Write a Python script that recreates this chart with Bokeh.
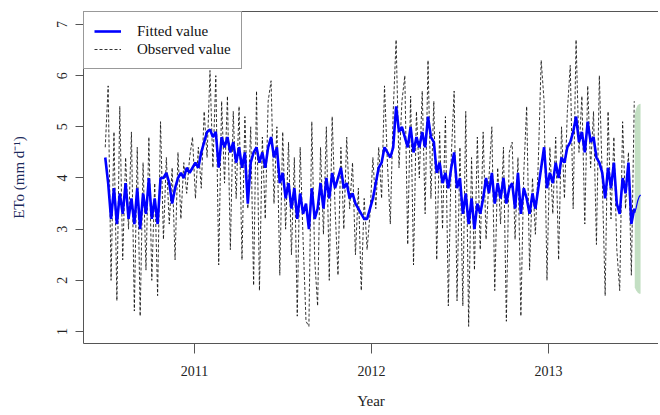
import pandas as pd
import numpy as np
from bokeh.plotting import figure
from bokeh.models import FixedTicker, LinearAxis, Legend, LegendItem, Range1d
from bokeh.embed import file_html
from bokeh.resources import INLINE

# ---------------- data ----------------
start_date = "2010-07-01"
step_days = 6

observed = [
    4.6, 5.8, 2.0, 4.9, 1.6, 5.4, 2.4, 4.4, 3.0, 4.9,
    1.4, 4.6, 1.3, 4.3, 2.2, 4.8, 2.0, 3.9, 1.7, 5.1,
    2.8, 4.4, 3.1, 4.2, 2.4, 4.5, 3.2, 4.3, 3.7, 4.4,
    4.8, 3.6, 4.6, 3.8, 5.3, 4.4, 6.1, 4.2, 6.0, 2.3,
    5.5, 3.9, 5.6, 2.6, 5.3, 3.6, 5.4, 2.4, 5.2, 3.4,
    5.0, 1.9, 5.7, 1.8, 4.8, 3.2, 5.5, 5.9, 3.5, 5.0,
    2.1, 4.9, 3.0, 4.7, 2.5, 4.4, 1.3, 4.6, 2.8, 1.2,
    1.1, 5.1, 2.4, 1.5, 4.6, 2.9, 5.0, 2.0, 5.2, 3.4,
    2.1, 4.6, 3.0, 4.8, 3.4, 4.3, 2.5, 3.8, 1.8, 3.6,
    2.6, 3.3, 4.4, 3.4, 4.6, 3.6, 5.8, 4.3, 3.1, 5.3,
    6.7, 4.2, 5.5, 6.0, 2.7, 5.6, 2.3, 5.3, 4.0, 5.7,
    3.3, 6.3, 3.6, 5.5, 2.4, 4.9, 3.0, 5.2, 1.5, 4.4,
    5.7, 1.6, 4.6, 1.5, 5.3, 1.1, 4.4, 2.2, 4.8, 2.6,
    4.9, 2.8, 4.0, 5.0, 1.8, 4.2, 3.1, 4.6, 1.2, 4.5,
    4.7, 2.8, 4.4, 1.3, 4.1, 5.4, 2.2, 4.0, 2.9, 4.3,
    6.3, 5.5, 2.0, 4.6, 3.3, 4.8, 2.4, 5.0, 3.6, 5.3,
    6.2, 3.4, 6.7, 4.5, 5.6, 3.1, 5.8, 4.2, 5.3, 2.7,
    6.0, 4.0, 1.7, 5.3, 3.2, 4.8, 2.6, 1.8, 5.1, 3.4,
    4.5, 2.1, 5.5,
]

fitted = [
    4.4, 3.9, 3.2, 3.8, 3.1, 3.7, 3.3, 3.9, 3.2, 3.6,
    3.1, 3.8, 3.0, 3.7, 3.3, 4.0, 3.2, 3.6, 3.1, 4.0,
    4.0, 4.1, 3.9, 3.5, 3.8, 4.0, 4.1, 4.0, 4.2, 4.1,
    4.2, 4.3, 4.2, 4.5, 4.7, 4.9, 4.95, 4.8, 4.9, 4.2,
    4.8, 4.6, 4.8, 4.5, 4.7, 4.3, 4.6, 4.2, 4.5, 3.5,
    4.3, 4.5, 4.6, 4.3, 4.5, 4.2, 4.6, 4.8, 4.4, 4.6,
    3.9, 4.1, 3.6, 3.9, 3.4, 3.8, 3.2, 3.7, 3.3, 3.5,
    3.0, 3.8, 3.2, 3.4, 3.9, 3.4, 4.0, 3.6, 4.1, 3.8,
    4.0, 4.2, 3.8, 3.9, 3.6, 3.7, 3.5, 3.4, 3.3, 3.2,
    3.2, 3.4, 3.6, 3.9, 4.2, 4.3, 4.6, 4.5, 4.4, 4.6,
    5.4, 4.9, 5.0, 4.8, 4.6, 5.0, 4.5, 4.8, 4.6, 4.9,
    4.6, 5.2, 4.8, 4.7, 4.1, 4.3, 3.9, 4.1, 3.8, 4.2,
    4.5, 3.8, 4.0, 3.3, 3.7, 3.1, 3.6, 3.0, 3.5, 3.3,
    3.6, 4.0, 3.7, 4.1, 3.5, 3.9, 3.6, 4.0, 3.5, 3.8,
    3.9, 3.4, 4.1, 3.3, 3.8, 3.6, 3.3, 3.7, 3.4, 3.8,
    4.2, 4.6, 3.8, 4.1, 3.9, 4.3, 4.0, 4.4, 4.3, 4.6,
    4.7, 4.9, 5.2, 4.7, 4.9, 4.5, 5.1, 4.7, 4.8, 4.4,
    4.3, 4.1, 3.6, 4.2, 3.8, 4.3, 3.5, 3.3, 4.0, 3.7,
    4.3, 3.1, 3.4,
]

fc_start = "2013-06-28"
fc_step_days = 3
forecast = [3.32, 3.42, 3.55, 3.63, 3.67]
fc_upper = [5.25, 5.36, 5.42, 5.44, 5.45]
fc_lower = [1.86, 1.80, 1.76, 1.74, 1.74]

x_ticks = [2011, 2012, 2013]
x_tick_labels = ["2011", "2012", "2013"]
y_ticks = [1, 2, 3, 4, 5, 6, 7]


def dec_year(d):
    days = np.where(d.is_leap_year, 366, 365)
    return np.asarray(d.year + (d.dayofyear - 1) / days, dtype=float)


obs_x = dec_year(pd.date_range(start_date, periods=len(observed), freq=f"{step_days}D"))
fc_x = dec_year(pd.date_range(fc_start, periods=len(forecast), freq=f"{fc_step_days}D"))

FONT = "'Liberation Serif', 'Times New Roman', serif"
AXC = "#555555"

p = figure(width=658, height=415, output_backend="svg", toolbar_location=None,
           x_range=Range1d(2010.373, 2013.588 + 6 / 177), y_range=Range1d(0.7655, 7.2535),
           min_border_left=83, min_border_right=0, min_border_top=11, min_border_bottom=72)
p.grid.visible = False
p.outline_line_color = None
p.background_fill_color = "white"

# forecast interval
p.varea(x=fc_x, y1=fc_lower, y2=fc_upper, fill_color="#c3dfc3", fill_alpha=1.0)

r_obs = p.line(obs_x, observed, line_color="#111111", line_width=0.85, line_dash="3 2")
r_fit = p.line(obs_x, fitted, line_color="#0000ff", line_width=2.6)
p.line(np.concatenate([obs_x[-1:], fc_x]), [fitted[-1]] + forecast,
       line_color="#0000ff", line_width=1.2)

# axes
xa = p.xaxis[0]
xa.ticker = FixedTicker(ticks=x_ticks)
xa.major_label_overrides = {t: l for t, l in zip(x_ticks, x_tick_labels)}
xa.axis_label = "Year"
ya = p.yaxis[0]
ya.ticker = FixedTicker(ticks=y_ticks)
ya.axis_label = "ETo (mm d\u207b\u00b9)"
ya.major_label_orientation = "vertical"

for ax in (xa, ya):
    ax.axis_line_color = AXC
    ax.major_tick_line_color = AXC
    ax.minor_tick_line_color = None
    ax.major_tick_in = 0
    ax.major_label_text_font = FONT
    ax.major_label_text_font_size = "14px"
    ax.major_label_text_color = "#222222"
    ax.axis_label_text_font = FONT
    ax.axis_label_text_font_size = "15px"
    ax.axis_label_text_font_style = "normal"

xa.major_tick_out = 10
xa.major_label_standoff = 12
xa.axis_label_standoff = 14
xa.axis_label_text_color = "#222222"
ya.major_tick_out = 8
ya.major_label_standoff = 8
ya.axis_label_standoff = 28
ya.axis_label_text_color = "#1c2a5c"

top = LinearAxis(ticker=FixedTicker(ticks=[]), axis_line_color=AXC,
                 major_tick_out=0, major_tick_in=0, minor_tick_out=0, minor_tick_in=0,
                 major_label_text_font_size="0px")
p.add_layout(top, "above")

legend = Legend(items=[LegendItem(label="Fitted value", renderers=[r_fit]),
                       LegendItem(label="Observed value", renderers=[r_obs])],
                location="top_left", margin=0, padding=10, spacing=0,
                glyph_width=27, glyph_height=18, label_height=18, label_standoff=16,
                label_text_font=FONT, label_text_font_size="15px", label_text_color="#111111",
                border_line_color="#333333", border_line_width=1,
                background_fill_color="white", background_fill_alpha=1.0)
p.add_layout(legend, "center")

open("out.html", "w").write(file_html(p, INLINE))
